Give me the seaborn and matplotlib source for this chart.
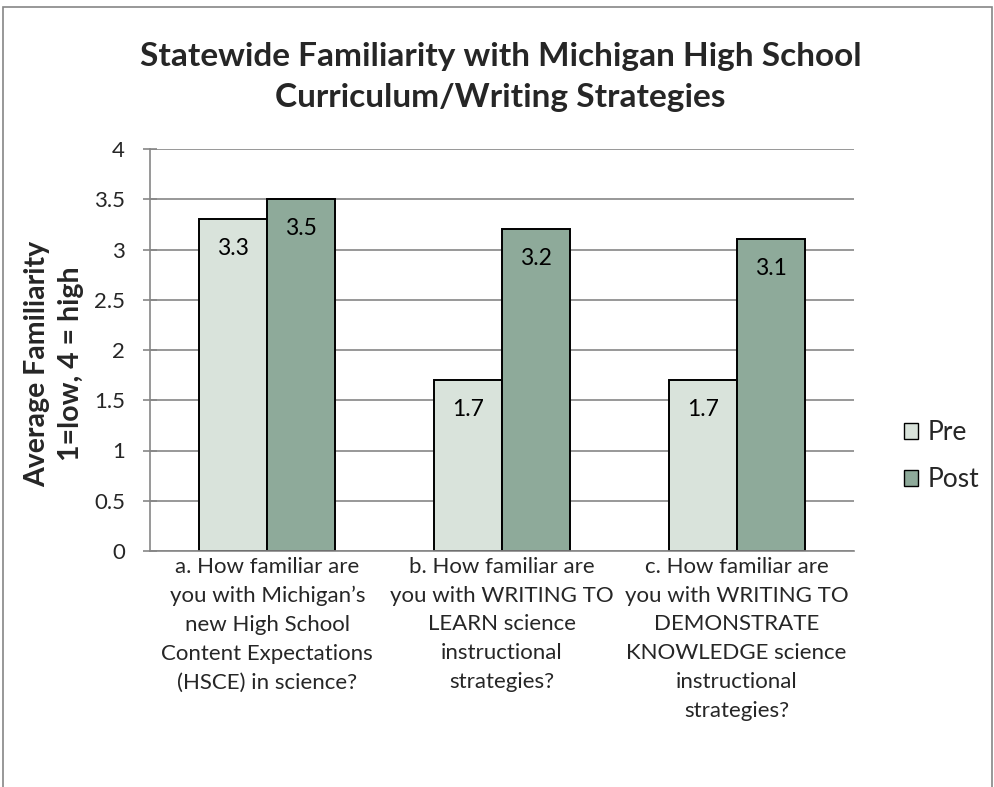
import numpy as np
import matplotlib
matplotlib.use("Agg")
import matplotlib.pyplot as plt
import seaborn as sns
import pandas as pd
from matplotlib.patches import Rectangle

# data
questions = [
    "a. How familiar are\nyou with Michigan\u2019s\nnew High School\nContent Expectations\n(HSCE) in science?",
    "b. How familiar are\nyou with WRITING TO\nLEARN science\ninstructional\nstrategies?",
    "c. How familiar are\nyou with WRITING TO\nDEMONSTRATE\nKNOWLEDGE science\ninstructional\nstrategies?",
]
pre_scores = [3.3, 1.7, 1.7]
post_scores = [3.5, 3.2, 3.1]
phases = ["Pre", "Post"]
y_ticks = [0, 0.5, 1, 1.5, 2, 2.5, 3, 3.5, 4]

df = pd.DataFrame({
    "question": questions * 2,
    "phase": ["Pre"] * 3 + ["Post"] * 3,
    "score": pre_scores + post_scores,
})

sns.set_theme(style="white")
plt.rcParams["font.family"] = ["Lato", "DejaVu Sans"]

palette = {"Pre": "#D9E3DB", "Post": "#8EAA9A"}
grey = "#868686"

fig = plt.figure(figsize=(9.95, 7.87), dpi=100)
fig.patch.set_facecolor("white")
ax = fig.add_axes([150 / 995, 1 - 551 / 787, 704 / 995, 402 / 787])

sns.barplot(data=df, x="question", y="score", hue="phase", hue_order=phases,
            palette=palette, width=0.58, gap=0, edgecolor="black",
            linewidth=1.4, saturation=1, ax=ax, legend=True)

# value labels just inside the top of each bar
for cont in ax.containers:
    for p in cont:
        h = p.get_height()
        ax.annotate(f"{h:.1f}", (p.get_x() + p.get_width() / 2, h),
                    xytext=(0, -21), textcoords="offset points",
                    ha="center", va="center", fontsize=16.5, color="black")

ax.set_ylim(0, 4)
ax.set_xlim(-0.5, 2.5)
ax.set_yticks(y_ticks)
ax.set_yticklabels([f"{t:g}" for t in y_ticks], fontsize=16)
ax.yaxis.grid(True, color=grey, linewidth=1.2)
ax.set_axisbelow(True)
ax.set_xlabel("")
ax.set_ylabel("")

ax.set_xticks(range(len(questions)))
ax.set_xticklabels(questions, fontsize=16, linespacing=1.56, va="top")
ax.set_xticks([-0.5, 0.5, 1.5, 2.5], minor=True)
ax.tick_params(axis="x", which="major", length=0, pad=4)
ax.tick_params(axis="x", which="minor", length=6, width=1.2, color=grey)
ax.tick_params(axis="y", direction="inout", length=10, width=1.2, color=grey,
               pad=13, left=True)

for s in ["top", "right"]:
    ax.spines[s].set_visible(False)
for s in ["left", "bottom"]:
    ax.spines[s].set_color(grey)
    ax.spines[s].set_linewidth(1.2)

leg = ax.legend(loc="center left", bbox_to_anchor=(1.052, 0.236), frameon=False,
                fontsize=19, handlelength=0.55, handleheight=0.55,
                labelspacing=0.85, handletextpad=0.35, borderpad=0)
for h in leg.legend_handles:
    h.set_edgecolor("black")
    h.set_linewidth(1.0)

fig.text(0.503, 1 - 77 / 787,
         "Statewide Familiarity with Michigan High School\nCurriculum/Writing Strategies",
         ha="center", va="center", fontsize=24, fontweight="bold", linespacing=1.48)

fig.text(54 / 995, 1 - 364 / 787, "Average Familiarity\n1=low, 4 = high",
         rotation=90, ha="center", va="center", fontsize=20.5, fontweight="bold",
         multialignment="center", linespacing=1.35)

# chart frame like the spreadsheet export
fig.patches.append(Rectangle((3 / 995, -0.05), 989 / 995, 1.05 - 7 / 787,
                             transform=fig.transFigure, fill=False,
                             edgecolor=grey, linewidth=1.2))

fig.savefig("out.png", dpi=100)
